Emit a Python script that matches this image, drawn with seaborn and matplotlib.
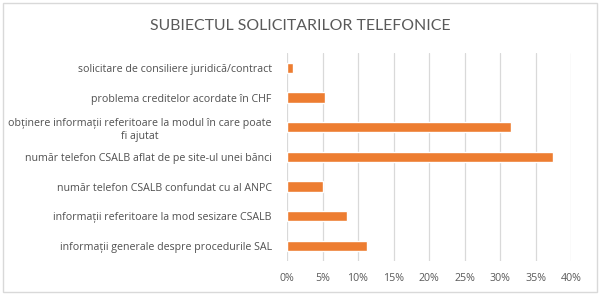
import matplotlib
matplotlib.use("Agg")
import matplotlib.pyplot as plt
import seaborn as sns
import pandas as pd
from matplotlib.ticker import FuncFormatter
from matplotlib.patches import Rectangle

categories = [
    "solicitare de consiliere juridică/contract",
    "problema creditelor acordate în CHF",
    "obținere informații referitoare la modul în care poate\nfi ajutat",
    "număr telefon CSALB aflat de pe site-ul unei bănci",
    "număr telefon CSALB confundat cu al ANPC",
    "informații referitoare la mod sesizare CSALB",
    "informații generale despre procedurile SAL",
]
values = [0.8, 5.4, 31.5, 37.4, 5.1, 8.4, 11.3]
xticks = [0, 5, 10, 15, 20, 25, 30, 35, 40]
title = "SUBIECTUL SOLICITARILOR TELEFONICE"

sns.set_theme(style="white")
plt.rcParams['font.family'] = ['Open Sans', 'DejaVu Sans']

df = pd.DataFrame({"cat": categories, "val": values})

fig = plt.figure(figsize=(6, 2.95), dpi=100)
ax = fig.add_axes([287/600, 1-260.7/295, (571-287)/600, (260.7-53)/295])

sns.barplot(data=df, x="val", y="cat", orient="h", color="#ED7D31",
            saturation=1, width=0.34, ax=ax)

ax.set_xlim(0, 40)
ax.set_xticks(xticks)
ax.xaxis.set_major_formatter(FuncFormatter(lambda v, p: f"{int(v)}%"))
ax.grid(axis="x", color="#D9D9D9", linewidth=0.9)
ax.set_axisbelow(True)
for s in ax.spines.values():
    s.set_visible(False)
ax.set_xlabel("")
ax.set_ylabel("")
ax.tick_params(axis="x", length=0, pad=9, labelsize=7.7, labelcolor="#595959")
ax.tick_params(axis="y", length=0, pad=11, labelsize=7.7, labelcolor="#505050")
for lab in ax.get_yticklabels():
    lab.set_multialignment("center")
    lab.set_linespacing(1.35)

fig.text(0.5, 1-26/295, title, ha="center", va="center", fontsize=11.4,
         color="#595959", family=["Lato", "DejaVu Sans"])
fig.patches.append(Rectangle((3/600, 3/295), 594/600, 289/295,
                             transform=fig.transFigure, fill=False,
                             edgecolor="#D9D9D9", linewidth=1))

fig.savefig("out.png", dpi=100)
